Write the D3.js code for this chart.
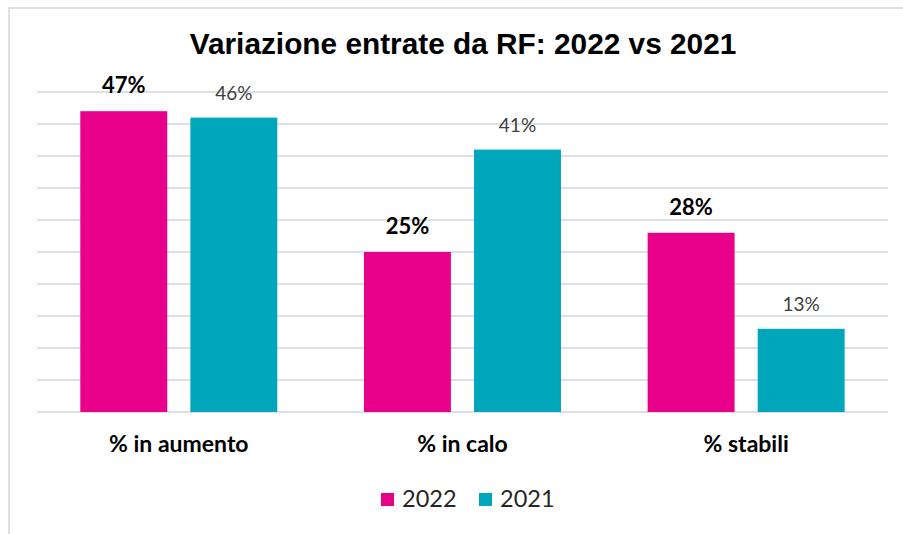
<!DOCTYPE html>
<html><head><meta charset="utf-8">
<script src="https://cdn.jsdelivr.net/npm/d3@7"></script>
<style>body{margin:0;background:#fff}svg{display:block}</style>
</head><body>
<svg id="c" width="903" height="534"></svg>
<script>
const categories = ["% in aumento", "% in calo", "% stabili"];
const seriesNames = ["2022", "2021"];
const values2022 = [47, 25, 28];
const values2021 = [46, 41, 13];
const yTicks = [0,5,10,15,20,25,30,35,40,45,50];
const titleText = "Variazione entrate da RF: 2022 vs 2021";

(function(){
const colors = {"2022": "#E8008A", "2021": "#00A7BB"};
const font = "Lato, 'Open Sans', sans-serif";
const svg = d3.select("#c");
svg.append("rect").attr("x",9).attr("y",8).attr("width",940).attr("height",560)
  .attr("fill","#fff").attr("stroke","#DDE1E7").attr("stroke-width",2);

const pl = 37, pr = 888, pt = 92, pb = 412;
const x0 = d3.scaleBand().domain(categories).range([pl, pr]).paddingInner(0).paddingOuter(0);
const x1 = d3.scaleBand().domain(seriesNames).range([43.3, 283.6-43.3]).paddingInner(0.21);
const y = d3.scaleLinear().domain([0,50]).range([pb, pt]);

svg.append("g").selectAll("line").data(yTicks).join("line")
  .attr("x1", pl).attr("x2", pr)
  .attr("y1", d=>y(d)).attr("y2", d=>y(d))
  .attr("stroke", "#DCE0E6").attr("stroke-width", 2);

svg.append("text").attr("x", 463).attr("y", 54).attr("text-anchor","middle")
  .attr("font-family","'Liberation Sans', Arial, sans-serif")
  .attr("font-weight","bold").attr("font-size",29.8).attr("fill","#000").text(titleText);

const data = categories.map((c,i)=>({cat:c, vals:[{s:"2022",v:values2022[i]},{s:"2021",v:values2021[i]}]}));
const g = svg.append("g").selectAll("g").data(data).join("g")
  .attr("transform", d=>`translate(${x0(d.cat)},0)`);
g.selectAll("rect").data(d=>d.vals).join("rect")
  .attr("x", d=>x1(d.s)).attr("width", x1.bandwidth())
  .attr("y", d=>y(d.v)).attr("height", d=>y(0)-y(d.v))
  .attr("fill", d=>colors[d.s]);
g.selectAll("text.lbl").data(d=>d.vals).join("text").attr("class","lbl")
  .attr("x", d=>x1(d.s)+x1.bandwidth()/2).attr("y", d=>y(d.v)-(d.s==="2022"?18:17.5))
  .attr("text-anchor","middle")
  .attr("font-family",font)
  .attr("font-weight", d=>d.s==="2022"?"bold":"normal")
  .attr("font-size", d=>d.s==="2022"?22:19)
  .attr("fill", d=>d.s==="2022"?"#000":"#404040")
  .text(d=>d.v+"%");

svg.append("g").selectAll("text").data(categories).join("text")
  .attr("x", d=>x0(d)+x0.bandwidth()/2).attr("y", 452).attr("text-anchor","middle")
  .attr("font-family",font)
  .attr("font-weight","bold").attr("font-size",23).attr("fill","#000").text(d=>d);

const leg = svg.append("g");
const legX = [381, 479];
seriesNames.forEach((s,i)=>{
  leg.append("rect").attr("x",legX[i]).attr("y",493).attr("width",13).attr("height",13).attr("fill",colors[s]);
  leg.append("text").attr("x",legX[i]+21).attr("y",507)
    .attr("font-family",font)
    .attr("font-size",23.5).attr("fill","#262626").text(s);
});
})();
</script>
</body></html>
